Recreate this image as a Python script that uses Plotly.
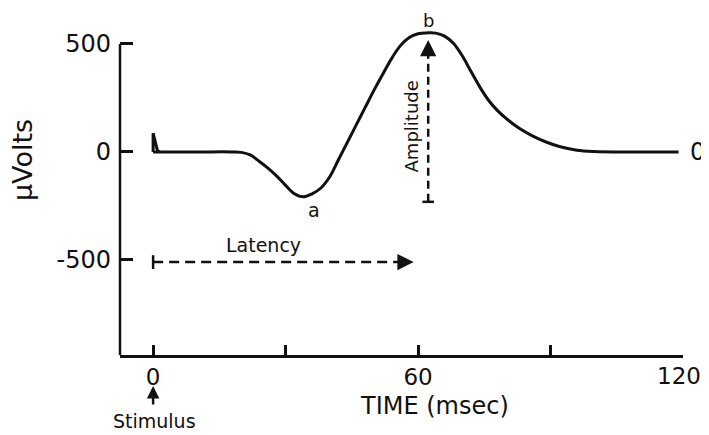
import plotly.graph_objects as go

# ---- data ----
time_ms = [0, 10, 18, 20, 22, 24, 26, 28, 30, 32, 34, 36, 38, 40, 42, 44, 46, 48,
           50, 52, 54, 56, 58, 60, 62, 64, 66, 68, 70, 72, 74, 76, 78, 80, 83, 86,
           89, 92, 96, 100, 105, 119]
microvolts = [0, 0, 0, -2, -14, -43, -75, -112, -155, -194, -208, -194, -167, -115,
              -35, 45, 125, 205, 285, 360, 432, 492, 530, 547, 551, 550, 536, 503,
              445, 372, 300, 238, 191, 154, 108, 73, 46, 25, 8, 2, 0, 0]

spike_t = [0, 0, 1.0, 1.5]
spike_v = [0, 87, 5, 0]

x_tickvals = [0, 30, 60, 90, 120]
x_ticktext = ["0", "", "60", "", ""]
x_last_label = "120"
y_tickvals = [500, 0, -500]
y_ticktext = ["500", "0", "-500"]

latency_start, latency_end, latency_level = 0, 59, -510
amp_time, amp_low, amp_high = 62.3, -231, 518
trough_t, trough_v = 36.5, -270
peak_t, peak_v = 62.3, 610

x_range = [-7.5, 120]
y_range = [-940, 657]

FONT = "DejaVu Sans"
BLACK = "#111111"

fig = go.Figure()
fig.add_trace(go.Scatter(x=time_ms, y=microvolts, mode="lines",
                         line=dict(color=BLACK, width=3, shape="spline", smoothing=1.0),
                         hoverinfo="skip", showlegend=False))
fig.add_trace(go.Scatter(x=spike_t, y=spike_v, mode="lines",
                         line=dict(color=BLACK, width=3),
                         hoverinfo="skip", showlegend=False))

# latency dashed arrow
fig.add_trace(go.Scatter(x=[latency_start, latency_end - 2], y=[latency_level, latency_level],
                         mode="lines", line=dict(color=BLACK, width=2.5, dash="10px,6px"),
                         hoverinfo="skip", showlegend=False))
fig.add_trace(go.Scatter(x=[latency_start, latency_start], y=[latency_level - 32, latency_level + 32],
                         mode="lines", line=dict(color=BLACK, width=2.5),
                         hoverinfo="skip", showlegend=False))
# amplitude dashed arrow
fig.add_trace(go.Scatter(x=[amp_time, amp_time], y=[amp_low, amp_high - 40],
                         mode="lines", line=dict(color=BLACK, width=2.5, dash="8px,5px"),
                         hoverinfo="skip", showlegend=False))
fig.add_trace(go.Scatter(x=[amp_time - 1.3, amp_time + 1.3], y=[amp_low, amp_low],
                         mode="lines", line=dict(color=BLACK, width=2.5),
                         hoverinfo="skip", showlegend=False))

ann = []
# arrow heads
ann.append(dict(x=latency_end, y=latency_level, xref="x", yref="y", ax=-16, ay=0,
                text="", showarrow=True,
                arrowhead=2, arrowsize=1.3, arrowwidth=2.5, arrowcolor=BLACK))
ann.append(dict(x=amp_time, y=amp_high, xref="x", yref="y", ax=0, ay=16,
                text="", showarrow=True,
                arrowhead=2, arrowsize=1.3, arrowwidth=2.5, arrowcolor=BLACK))
# stimulus arrow
ann.append(dict(x=0, y=-0.09, xref="x", yref="paper", ax=0, ay=20,
                text="", showarrow=True,
                arrowhead=2, arrowsize=1.0, arrowwidth=2.5, arrowcolor=BLACK))
ann.append(dict(x=0.4, y=-0.19, xref="x", yref="paper", text="Stimulus", showarrow=False,
                font=dict(family=FONT, size=19, color=BLACK), xanchor="center", yanchor="middle"))
ann.append(dict(x=0.558, y=-0.148, xref="paper", yref="paper", text="TIME (msec)",
                showarrow=False, font=dict(family=FONT, size=24, color=BLACK),
                xanchor="center", yanchor="middle"))
ann.append(dict(x=-0.174, y=0.565, xref="paper", yref="paper", text="μVolts",
                textangle=-90, showarrow=False, font=dict(family=FONT, size=27, color=BLACK),
                xanchor="center", yanchor="middle"))
ann.append(dict(x=25, y=-430, xref="x", yref="y", text="Latency", showarrow=False,
                font=dict(family=FONT, size=19, color=BLACK), xanchor="center", yanchor="middle"))
ann.append(dict(x=58.5, y=120, xref="x", yref="y", text="Amplitude", textangle=-90,
                showarrow=False, font=dict(family=FONT, size=18, color=BLACK),
                xanchor="center", yanchor="middle"))
ann.append(dict(x=trough_t, y=trough_v, xref="x", yref="y", text="a", showarrow=False,
                font=dict(family=FONT, size=19, color=BLACK), xanchor="center", yanchor="middle"))
ann.append(dict(x=peak_t, y=peak_v, xref="x", yref="y", text="b", showarrow=False,
                font=dict(family=FONT, size=18, color=BLACK), xanchor="center", yanchor="middle"))
ann.append(dict(x=1.0, y=0, xref="paper", yref="y", text="0", showarrow=False,
                font=dict(family=FONT, size=24, color=BLACK), xanchor="left", yanchor="middle",
                xshift=5))
# last x tick label, nudged left so it stays inside the page
ann.append(dict(x=x_tickvals[-1], y=-0.061, xref="x", yref="paper", text=x_last_label,
                showarrow=False, font=dict(family=FONT, size=23, color=BLACK),
                xanchor="center", yanchor="middle", xshift=-4))

# page body adds an 8px offset; figure sized so the plot area lands where the reference has it
fig.update_layout(
    width=701, height=427,
    margin=dict(l=112, r=26, t=2, b=80, autoexpand=False),
    paper_bgcolor="white", plot_bgcolor="white",
    annotations=ann,
    shapes=[dict(type="line", xref="paper", yref="y", x0=0, x1=0, y0=y_range[0], y1=500,
                 line=dict(color=BLACK, width=2.5))],
    xaxis=dict(range=x_range, tickvals=x_tickvals, ticktext=x_ticktext,
               ticks="inside", ticklen=10, tickwidth=2.5, tickcolor=BLACK,
               showline=True, linewidth=2.5, linecolor=BLACK, automargin=False,
               showgrid=False, zeroline=False, ticklabelstandoff=0,
               tickfont=dict(family=FONT, size=23, color=BLACK)),
    yaxis=dict(range=y_range, tickvals=y_tickvals, ticktext=y_ticktext,
               ticks="inside", ticklen=13, tickwidth=2.5, tickcolor=BLACK, automargin=False,
               showline=False, showgrid=False, zeroline=False, ticklabelstandoff=8,
               tickfont=dict(family=FONT, size=24, color=BLACK)),
)

fig.write_html("out.html")
